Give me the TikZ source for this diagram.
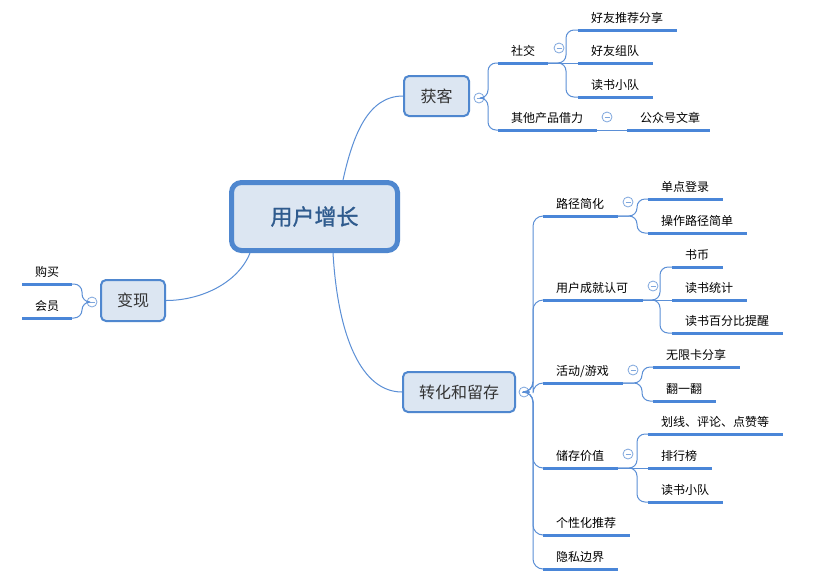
\documentclass[tikz,border=0pt]{standalone}
\usepackage{fontspec}
\setmainfont{Noto Sans CJK SC}
\newfontfamily\centralfont[FakeBold=1.2]{Noto Sans CJK SC}
\usetikzlibrary{calc}
\definecolor{ln}{HTML}{4A86D8}
\definecolor{thinln}{HTML}{5B8FD6}
\definecolor{boxfill}{HTML}{DCE6F2}
\definecolor{boxdraw}{HTML}{4F87CF}
\definecolor{ctext}{HTML}{2F5B8E}
\definecolor{ttext}{HTML}{333333}
\definecolor{coll}{HTML}{7FA7DD}
\tikzset{
  uline/.style={draw=ln, line width=3pt},
  conn/.style={draw=thinln, line width=1pt, rounded corners=8pt},
  mainconn/.style={draw=thinln, line width=1pt},
  lbl/.style={anchor=base west, inner sep=0pt, font=\fontsize{12}{14}\selectfont, text=black},
  topic/.style={draw=boxdraw, fill=boxfill, line width=2pt, rounded corners=5pt,
    font=\fontsize{16}{18}\selectfont, text=ttext, inner sep=0pt},
  central/.style={draw=boxdraw, fill=boxfill, line width=5pt, rounded corners=10pt,
    font=\centralfont\fontsize{22}{24}\selectfont, text=ctext, inner sep=0pt,
    minimum width=166pt, minimum height=68pt},
  collapse/.style={circle, draw=coll, fill=white, line width=0.8pt, minimum size=10pt, inner sep=0pt,
    path picture={\draw[coll, line width=0.8pt] ([xshift=-2.5pt]path picture bounding box.center) -- ([xshift=2.5pt]path picture bounding box.center);}}
}
\newcommand\leaf[5]{%
  \coordinate (#1s) at (#2,#4);
  \coordinate (#1e) at (#3,#4);
  \draw[uline] (#1s) -- (#1e);
  \node[lbl] (#1) at ([xshift=13pt,yshift=7.5pt]#1s) {#5};
}
\begin{document}
\begin{tikzpicture}[x=1pt,y=-1pt]
\useasboundingbox (0,0) rectangle (816,582);
\fill[white] (0,0) rectangle (816,582);

% central and topics
\node[central] (c) at (314.5,216.5) {用户增长};
\node[topic, minimum width=65pt, minimum height=40pt] (hk) at (436.5,96) {获客};
\node[topic, minimum width=64pt, minimum height=41pt] (bx) at (133,300.5) {变现};
\node[topic, minimum width=112pt, minimum height=40pt] (zh) at (459,392) {转化和留存};

\draw[mainconn] ([xshift=28.5pt]c.north) .. controls +(10,-45) and +(-35,0) .. (hk.west);
\draw[mainconn] ([xshift=-64.5pt]c.south) .. controls +(-12,30) and +(35,0) .. (bx.east);
\draw[mainconn] ([xshift=18.5pt]c.south) .. controls +(5,85) and +(-40,0) .. (zh.west);

% collapse buttons of topics
\node[collapse] (chk) at (479,98) {};
\node[collapse] (cbx) at (92,302) {};
\node[collapse] (czh) at (524,392) {};

% 变现 children
\leaf{gm}{22}{72}{284}{购买}
\leaf{hyv}{22}{72}{318}{会员}
\draw[conn] (cbx.west) -| ([xshift=10pt]gme) -- (gme);
\draw[conn] (cbx.west) -| ([xshift=10pt]hyve) -- (hyve);

% 获客 children
\leaf{sj}{498}{548}{63}{社交}
\leaf{qt}{498}{597}{130}{其他产品借力}
\draw[conn] (chk.east) -| ([xshift=-10pt]sjs) -- (sjs);
\draw[conn] (chk.east) -| ([xshift=-10pt]qts) -- (qts);

\leaf{ha}{578}{677}{30}{好友推荐分享}
\leaf{hb}{578}{653}{63}{好友组队}
\leaf{hc}{578}{653}{97}{读书小队}
\node[collapse] (csj) at (559,48) {};
\draw[conn] (sje) -| ([xshift=-12pt]has) -- (has);
\draw[conn] (sje) -- (hbs);
\draw[conn] (sje) -| ([xshift=-12pt]hcs) -- (hcs);

\leaf{gz}{627}{710}{130}{公众号文章}
\node[collapse] (cqt) at (607,117) {};
\draw[conn] (qte) -- (gzs);

% 转化和留存 children
\leaf{lj}{543}{618}{216}{路径简化}
\leaf{yh}{543}{643}{300}{用户成就认可}
\leaf{hd}{543}{623}{383}{活动/游戏}
\leaf{cc}{543}{618}{468}{储存价值}
\leaf{gx}{543}{630}{535}{个性化推荐}
\leaf{ys}{543}{618}{569}{隐私边界}
\foreach \n in {lj,yh,hd,cc,gx,ys}{
  \draw[conn, rounded corners=10pt] (czh.east) -| ([xshift=-10pt]\n s) -- (\n s);
}

\node[collapse] (clj) at (628,202) {};
\leaf{dd}{648}{723}{199}{单点登录}
\leaf{cz}{648}{747}{233}{操作路径简单}
\draw[conn] (lje) -| ([xshift=-11pt]dds) -- (dds);
\draw[conn] (lje) -| ([xshift=-11pt]czs) -- (czs);

\node[collapse] (cyh) at (653,286) {};
\leaf{sb}{672}{723}{267}{书币}
\leaf{tj}{672}{747}{300}{读书统计}
\leaf{bf}{672}{783}{333}{读书百分比提醒}
\draw[conn] (yhe) -| ([xshift=-12pt]sbs) -- (sbs);
\draw[conn] (yhe) -- (tjs);
\draw[conn] (yhe) -| ([xshift=-12pt]bfs) -- (bfs);

\node[collapse] (chd) at (633,370) {};
\leaf{wx}{653}{740}{367}{无限卡分享}
\leaf{ff}{653}{716}{401}{翻一翻}
\draw[conn] (hde) -| ([xshift=-11pt]wxs) -- (wxs);
\draw[conn] (hde) -| ([xshift=-11pt]ffs) -- (ffs);

\node[collapse] (ccc) at (628,454) {};
\leaf{hx}{648}{783}{434}{划线、评论、点赞等}
\leaf{ph}{648}{712}{468}{排行榜}
\leaf{xd}{648}{723}{502}{读书小队}
\draw[conn] (cce) -| ([xshift=-11pt]hxs) -- (hxs);
\draw[conn] (cce) -- (phs);
\draw[conn] (cce) -| ([xshift=-11pt]xds) -- (xds);
\end{tikzpicture}
\end{document}
